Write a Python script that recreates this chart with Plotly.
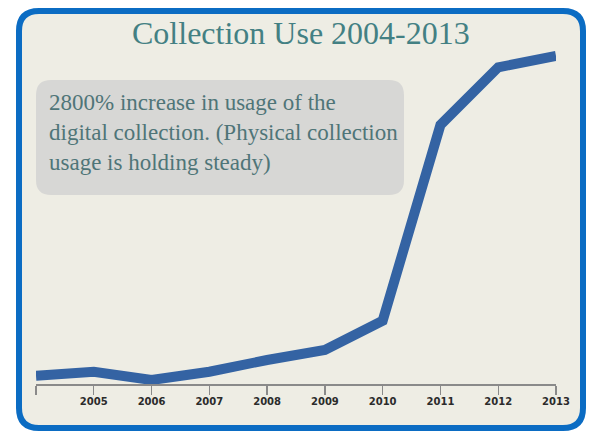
import plotly.graph_objects as go

# ---- data ----
years = [2004, 2005, 2006, 2007, 2008, 2009, 2010, 2011, 2012, 2013]
usage = [8.3, 12.3, 4.0, 12.3, 24.0, 34.0, 63.3, 259.0, 316.7, 328.0]
tick_labels = ["", "2005", "2006", "2007", "2008", "2009", "2010", "2011", "2012", "2013"]
title_text = "Collection Use 2004-2013"
note_text = "2800% increase in usage of the<br>digital collection. (Physical collection<br>usage is holding steady)"

# ---- layout geometry ----
W, H = 592, 433
ML, MR, MT, MB = 36, 36, 44, 49
PW, PH = W - ML - MR, H - MT - MB


def px(x):
    return (x - ML) / PW


def py(y):
    return (H - MB - y) / PH


def rounded_path(x0, y0, x1, y1, r):
    pts = [
        f"M {px(x0 + r)} {py(y0)}",
        f"L {px(x1 - r)} {py(y0)}",
        f"Q {px(x1)} {py(y0)} {px(x1)} {py(y0 + r)}",
        f"L {px(x1)} {py(y1 - r)}",
        f"Q {px(x1)} {py(y1)} {px(x1 - r)} {py(y1)}",
        f"L {px(x0 + r)} {py(y1)}",
        f"Q {px(x0)} {py(y1)} {px(x0)} {py(y1 - r)}",
        f"L {px(x0)} {py(y0 + r)}",
        f"Q {px(x0)} {py(y0)} {px(x0 + r)} {py(y0)}",
        "Z",
    ]
    return " ".join(pts)


fig = go.Figure()
fig.add_trace(go.Scatter(
    x=years, y=usage, mode="lines",
    line=dict(color="#3463a3", width=10),
    hoverinfo="skip", showlegend=False,
))

fig.update_layout(
    width=W, height=H,
    margin=dict(l=ML, r=MR, t=MT, b=MB, pad=0),
    paper_bgcolor="white",
    plot_bgcolor="rgba(0,0,0,0)",
    showlegend=False,
    xaxis=dict(
        range=[2004, 2013], tickmode="array", tickvals=years, ticktext=tick_labels,
        showline=True, linecolor="#8a8a8a", linewidth=1.5,
        ticks="outside", ticklen=9, tickcolor="#8a8a8a", tickwidth=1.3,
        ticklabelstandoff=-2,
        showgrid=False, zeroline=False,
        tickfont=dict(family="DejaVu Sans", size=10, color="#2b2b2b", weight="bold"),
        fixedrange=True,
    ),
    yaxis=dict(range=[0, 340], visible=False, showgrid=False, zeroline=False, fixedrange=True),
    shapes=[
        dict(type="path", xref="paper", yref="paper", layer="below",
             path=rounded_path(19, 11, 583, 428, 20),
             line=dict(color="#0b6cc3", width=6), fillcolor="#eeede4"),
        dict(type="path", xref="paper", yref="paper", layer="below",
             path=rounded_path(36, 80, 404, 195, 15),
             line=dict(width=0), fillcolor="#d7d7d5"),
    ],
    annotations=[
        dict(text=title_text, xref="paper", yref="paper", x=px(301), y=py(33),
             xanchor="center", yanchor="middle", showarrow=False,
             font=dict(family="Liberation Serif", size=32, color="#438083")),
        dict(text=note_text, xref="paper", yref="paper", x=px(47), y=py(88),
             xanchor="left", yanchor="top", align="left", showarrow=False,
             font=dict(family="Liberation Serif", size=23, color="#4f7578")),
    ],
)

fig.write_html(
    "out.html",
    config={"displayModeBar": False, "staticPlot": True},
    post_script="document.body.style.margin='0';document.body.style.padding='0';",
)
